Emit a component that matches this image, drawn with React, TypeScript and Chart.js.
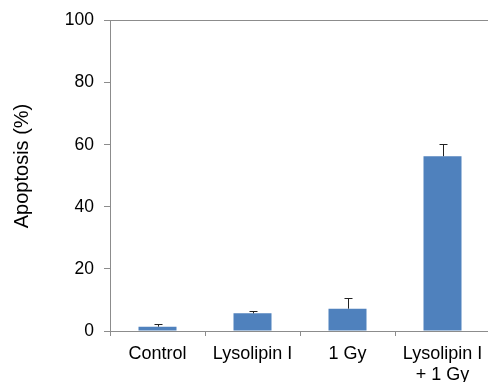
import React, { useEffect, useRef } from "react";
import { Chart, registerables } from "chart.js";

Chart.register(...registerables);

const categories: (string | string[])[] = ["Control", "Lysolipin I", "1 Gy", ["Lysolipin I", "+ 1 Gy"]];
const apoptosis = [1.4, 5.7, 7.2, 56.3];
const errorUp = [0.7, 0.6, 3.3, 3.8];
const yTicks = [0, 20, 40, 60, 80, 100];
const yTitle = "Apoptosis (%)";

const AXIS = "#8c8c8c";
const BAR = "#4F81BD";
const FONT = "'Liberation Sans', Arial, sans-serif";

const errorBarPlugin = {
  id: "errorBars",
  afterDatasetsDraw(chart: any) {
    const meta = chart.getDatasetMeta(0);
    const yScale = chart.scales.y;
    const ctx = chart.ctx;
    ctx.save();
    ctx.strokeStyle = "#222";
    ctx.lineWidth = 1;
    meta.data.forEach((bar: any, i: number) => {
      const x = Math.round(bar.x) + 0.5;
      const yBar = bar.y;
      const yTop = Math.round(yScale.getPixelForValue(apoptosis[i] + errorUp[i])) + 0.5;
      ctx.beginPath();
      ctx.moveTo(x, yBar);
      ctx.lineTo(x, yTop);
      ctx.moveTo(x - 4, yTop);
      ctx.lineTo(x + 4, yTop);
      ctx.stroke();
    });
    ctx.restore();
  },
};

const yTitlePlugin = {
  id: "yTitle",
  afterDraw(chart: any) {
    const ctx = chart.ctx;
    ctx.save();
    ctx.translate(27.5, 166);
    ctx.rotate(-Math.PI / 2);
    ctx.font = `20px ${FONT}`;
    ctx.fillStyle = "#000";
    ctx.textAlign = "center";
    ctx.textBaseline = "alphabetic";
    ctx.fillText(yTitle, 0, 0);
    ctx.restore();
  },
};

export default function App() {
  const ref = useRef<HTMLCanvasElement | null>(null);

  useEffect(() => {
    if (!ref.current) return;
    const chart = new Chart(ref.current, {
      type: "bar",
      data: {
        labels: categories as any,
        datasets: [
          {
            data: apoptosis,
            backgroundColor: BAR,
            borderWidth: 0,
            barPercentage: 0.4,
            categoryPercentage: 1,
          },
        ],
      },
      options: {
        responsive: false,
        animation: false,
        devicePixelRatio: 1,
        layout: { padding: { top: 20, right: 2, left: 0, bottom: 0 } },
        plugins: { legend: { display: false }, tooltip: { enabled: false } },
        scales: {
          x: {
            offset: true,
            grid: {
              offset: true,
              drawOnChartArea: false,
              drawTicks: true,
              tickLength: 5,
              tickColor: AXIS,
            },
            border: { color: AXIS, width: 1 },
            ticks: {
              color: "#000",
              font: { family: FONT, size: 18 },
              padding: 7,
              maxRotation: 0,
              autoSkip: false,
            },
            afterFit: (s: any) => {
              s.height = 51;
            },
          },
          y: {
            min: 0,
            max: 100,
            afterBuildTicks: (s: any) => {
              s.ticks = yTicks.map((v) => ({ value: v }));
            },
            grid: {
              color: (c: any) => (c.tick && c.tick.value === 100 ? AXIS : "rgba(0,0,0,0)"),
              tickColor: AXIS,
              tickLength: 6,
              drawTicks: true,
            },
            border: { color: AXIS, width: 1 },
            ticks: {
              color: "#000",
              font: { family: FONT, size: 17.5 },
              padding: 10,
            },
            title: { display: false },
            afterFit: (s: any) => {
              s.width = 110;
            },
          },
        },
      },
      plugins: [errorBarPlugin, yTitlePlugin],
    });
    return () => chart.destroy();
  }, []);

  return (
    <div style={{ position: "absolute", left: 0, top: 0, width: 488, height: 382, overflow: "hidden", background: "#fff" }}>
      <canvas ref={ref} width={492} height={382} style={{ display: "block", width: 492, height: 382 }} />
    </div>
  );
}
